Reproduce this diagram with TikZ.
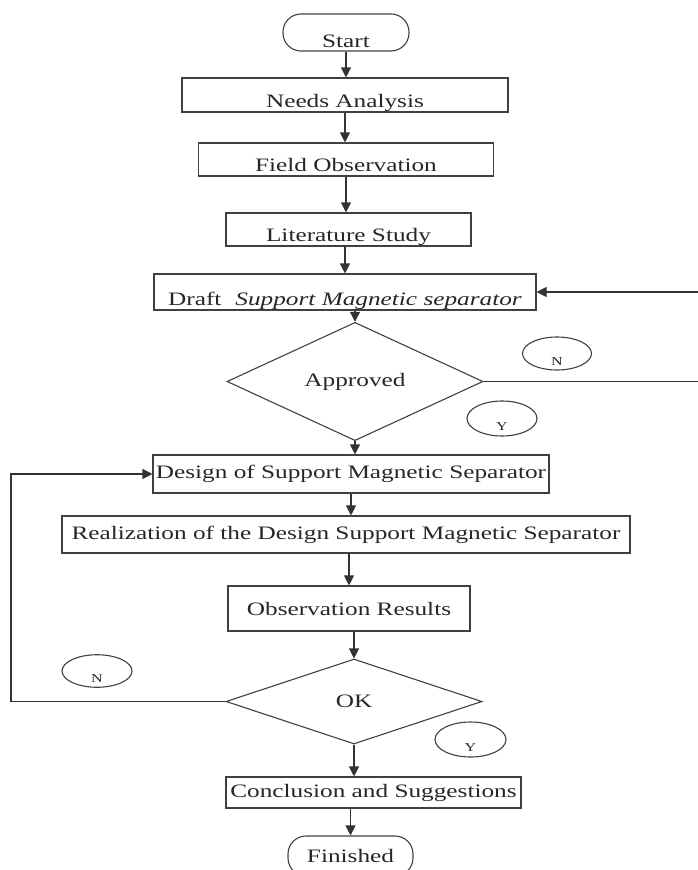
\documentclass[tikz,border=0pt]{standalone}
\usepackage{fontspec}
\setmainfont{Liberation Serif}[FakeStretch=1.33]
\usetikzlibrary{shapes,arrows.meta,calc}

\begin{document}
\begin{tikzpicture}[
        % one unit is one pixel of the page
        x=1pt, y=-1pt,
        %
        % Flowchart looks
        procbox/.style={rectangle, draw=black!75, line width=1.1pt,
            text=black!85, inner xsep=2pt, inner ysep=0pt,
            font=\fontsize{19}{21}\selectfont},
        lowbox/.style={procbox, inner ysep=5pt, text depth=0pt},
        termbox/.style={procbox, rounded corners=18pt},
        decision/.style={diamond, draw=black!75, line width=1.1pt,
            text=black!85, inner sep=0pt, minimum width=256pt,
            minimum height=85pt, font=\fontsize{19}{21}\selectfont},
        tag/.style={ellipse, draw=black!75, line width=1.1pt,
            text=black!85, inner sep=0pt, text height=23pt,
            text depth=0pt, font=\fontsize{12}{12}\selectfont},
        arr/.style={-{Triangle[length=10pt,width=10pt]}, draw=black!80,
            line width=1.1pt},
        line/.style={draw=black!80, line width=1.1pt}
    ]

        % Fix the page to the size of the reference
        \useasboundingbox (0,0) rectangle (698,870);
        \clip (0,0) rectangle (698,870);

        % Draw the first part of the chart
        \node[termbox, inner ysep=4pt, text depth=0pt, text height=29pt,
            minimum width=126pt] (start) at (346,32.5) {Start};
        \node[lowbox, minimum width=326pt, text height=24pt]
            (needs) at (345,95) {Needs Analysis};
        \node[lowbox, minimum width=295pt, text height=23pt]
            (field) at (346,159.5) {Field Observation};
        \node[lowbox, minimum width=245pt, text height=23pt]
            (lit) at (348.5,229.5) {Literature Study};
        \node[lowbox, minimum width=382pt, text height=26pt]
            (draft) at (345,292)
            {Draft\hspace{14pt}\textit{Support Magnetic separator}};

        % Draw the first decision and its answers
        \node[decision] (approved) at (355,381.5) {Approved};
        \node[tag, minimum width=69pt, minimum height=33pt]
            (napp) at (557,353.5) {N};
        \node[tag, minimum width=70pt, minimum height=35pt]
            (yapp) at (502,418.5) {Y};

        % Draw the second part of the chart
        \node[procbox, minimum width=396pt, minimum height=38pt]
            (design) at (351,474) {Design of Support Magnetic Separator};
        \node[procbox, minimum width=568pt, minimum height=37pt]
            (real) at (346,534.5)
            {Realization of the Design Support Magnetic Separator};
        \node[procbox, minimum width=242pt, minimum height=45pt]
            (obs) at (349,608.5) {Observation Results};

        % Draw the second decision and its answers
        \node[decision] (ok) at (354,701.5) {OK};
        \node[tag, minimum width=70pt, minimum height=32pt]
            (nok) at (97,671) {N};
        \node[tag, minimum width=71pt, minimum height=35pt]
            (yok) at (470.5,739.5) {Y};

        % Draw the end of the chart
        \node[procbox, minimum width=295pt, minimum height=31pt]
            (concl) at (373.5,792.5) {Conclusion and Suggestions};
        \node[termbox, minimum width=125pt, minimum height=40pt]
            (fin) at (350.5,856) {Finished};

        % Free ends of the loops
        \coordinate (draftin) at (698,292);
        \coordinate (apout) at (698,381.5);
        \coordinate (okback) at (11,701.5);

        % Draw the arrows down the chart
        \draw[arr] (start.south) -- (start.south |- needs.north);
        \draw[arr] (needs.south) -- (needs.south |- field.north);
        \draw[arr] (field.south) -- (field.south |- lit.north);
        \draw[arr] (lit.south -| draft.north) -- (draft.north);
        \draw[arr] (approved.north |- draft.south) -- (approved.north);
        \draw[arr] (approved.south) -- (approved.south |- design.north);
        \draw[arr] (design.south) -- (design.south |- real.north);
        \draw[arr] (obs.north |- real.south) -- (obs.north);
        \draw[arr] (ok.north |- obs.south) -- (ok.north);
        \draw[arr] (ok.south) -- (ok.south |- concl.north);
        \draw[arr] (fin.north |- concl.south) -- (fin.north);

        % Draw the loops back
        \draw[arr] (draftin) -- (draft.east);
        \draw[line] (approved.east) -- (apout);
        \draw[arr] (ok.west) -- (okback) |- (design.west);

    \end{tikzpicture}
\end{document}
